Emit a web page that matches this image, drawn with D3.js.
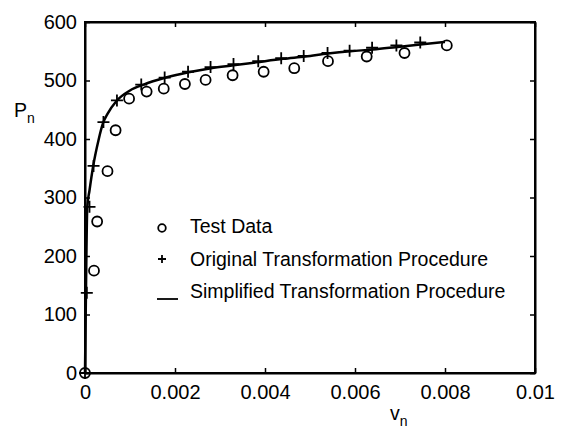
<!DOCTYPE html>
<html>
<head>
<meta charset="utf-8">
<script src="https://cdn.jsdelivr.net/npm/d3@7/dist/d3.min.js"></script>
<style>
html,body{margin:0;padding:0;background:#fff;}
svg{display:block;font-family:"Liberation Sans",Arial,Helvetica,sans-serif;}
</style>
</head>
<body>
<svg id="chart" width="566" height="430"></svg>
<script>
// Test data (circles)
const testX = [0, 0.0002, 0.00027, 0.0005, 0.00068, 0.00098, 0.00137, 0.00175, 0.00222, 0.00268, 0.00328, 0.00397, 0.00465, 0.0054, 0.00626, 0.0071, 0.00804];
const testY = [0, 175, 259, 345, 415, 469, 481, 486, 494, 501, 509, 515, 521, 533, 541, 547, 560];
// Original transformation procedure (plus markers)
const origX = [0, 0.00004, 0.0001, 0.00019, 0.00041, 0.00071, 0.00125, 0.00177, 0.00229, 0.00279, 0.0033, 0.00385, 0.00436, 0.00486, 0.00539, 0.00588, 0.00638, 0.00692, 0.00745];
const origY = [0, 137, 284, 354, 429, 466, 493, 505, 515, 523, 528, 533, 538, 542, 547, 551, 556, 560, 565];
// Simplified transformation procedure (line)
const simpX = [0, 0.00002, 0.00005, 0.0001, 0.00018, 0.0003, 0.0004, 0.0005, 0.0007, 0.001, 0.0013, 0.0018, 0.0023, 0.0028, 0.0033, 0.0038, 0.0044, 0.0049, 0.0054, 0.0059, 0.0064, 0.0069, 0.0075, 0.0080];
const simpY = [0, 130, 283, 312, 353, 398, 427, 443, 465, 483, 493, 505, 514, 521, 526, 531, 537, 541, 546, 550, 553, 557, 562, 566];

const xTicks = [0, 0.002, 0.004, 0.006, 0.008, 0.01];
const xTickLabels = ["0", "0.002", "0.004", "0.006", "0.008", "0.01"];
const yTicks = [0, 100, 200, 300, 400, 500, 600];
const yTickLabels = ["0", "100", "200", "300", "400", "500", "600"];
const legendLabels = ["Test Data", "Original Transformation Procedure", "Simplified Transformation Procedure"];

(function () {
const svg = d3.select("#chart");
const margin = {left: 85, right: 31, top: 22, bottom: 57};
const W = 566, H = 430;
const x = d3.scaleLinear().domain([0, 0.01]).range([margin.left, W - margin.right]);
const y = d3.scaleLinear().domain([0, 600]).range([H - margin.bottom, margin.top]);
const fs = 19.5, tfs = 20;

// frame
svg.append("rect")
  .attr("x", x(0)).attr("y", y(600))
  .attr("width", x(0.01) - x(0)).attr("height", y(0) - y(600))
  .attr("fill", "none").attr("stroke", "#000").attr("stroke-width", 2);

// axes with inward ticks
const gB = svg.append("g").attr("transform", `translate(0,${y(0)})`)
  .call(d3.axisBottom(x).tickValues(xTicks).tickFormat((d, i) => xTickLabels[i]).tickSizeInner(-5).tickSizeOuter(0).tickPadding(12));
const gT = svg.append("g").attr("transform", `translate(0,${y(600)})`)
  .call(d3.axisTop(x).tickValues(xTicks).tickFormat("").tickSizeInner(-5).tickSizeOuter(0));
const gL = svg.append("g").attr("transform", `translate(${x(0)},0)`)
  .call(d3.axisLeft(y).tickValues(yTicks).tickFormat((d, i) => yTickLabels[i]).tickSizeInner(-5).tickSizeOuter(0).tickPadding(8));
const gR = svg.append("g").attr("transform", `translate(${x(0.01)},0)`)
  .call(d3.axisRight(y).tickValues(yTicks).tickFormat("").tickSizeInner(-5).tickSizeOuter(0));
[gB, gT, gL, gR].forEach(g => {
  g.select(".domain").attr("stroke", "#000").attr("stroke-width", 2);
  g.selectAll(".tick line").attr("stroke", "#000").attr("stroke-width", 1.5);
  g.selectAll(".tick text").attr("fill", "#000").style("font-size", tfs + "px").style("font-family", "'Liberation Sans',Arial,sans-serif");
});

// axis titles
const pt = svg.append("text").attr("x", 14).attr("y", 117).style("font-size", fs + "px").attr("fill", "#000");
pt.append("tspan").text("P");
pt.append("tspan").attr("dy", 6).style("font-size", "14px").text("n");
const vt = svg.append("text").attr("x", 390).attr("y", 420).style("font-size", fs + "px").attr("fill", "#000");
vt.append("tspan").text("v");
vt.append("tspan").attr("dy", 6).style("font-size", "14px").text("n");

// line
const simp = simpX.map((d, i) => [d, simpY[i]]);
svg.append("path").datum(simp)
  .attr("d", d3.line().x(d => x(d[0])).y(d => y(d[1])).curve(d3.curveMonotoneX))
  .attr("fill", "none").attr("stroke", "#000").attr("stroke-width", 2.5).attr("stroke-linejoin", "round");

// plus markers
const orig = origX.map((d, i) => [d, origY[i]]);
const ps = 6;
svg.append("g").selectAll("path").data(orig).join("path")
  .attr("d", d => `M${x(d[0]) - ps},${y(d[1])}H${x(d[0]) + ps}M${x(d[0])},${y(d[1]) - ps}V${y(d[1]) + ps}`)
  .attr("stroke", "#000").attr("stroke-width", 1.8).attr("fill", "none");

// circles
const test = testX.map((d, i) => [d, testY[i]]);
svg.append("g").selectAll("circle").data(test).join("circle")
  .attr("cx", d => x(d[0])).attr("cy", d => y(d[1])).attr("r", 5)
  .attr("fill", "none").attr("stroke", "#000").attr("stroke-width", 1.8);

// legend
const lg = svg.append("g");
const rowsY = [226, 259, 291];
lg.append("circle").attr("cx", 162).attr("cy", rowsY[0] + 2).attr("r", 3.8).attr("fill", "none").attr("stroke", "#000").attr("stroke-width", 1.8);
lg.append("path").attr("d", `M158,${rowsY[1]}H166M162,${rowsY[1] - 4}V${rowsY[1] + 4}`).attr("stroke", "#000").attr("stroke-width", 1.8);
lg.append("line").attr("x1", 157).attr("x2", 178).attr("y1", rowsY[2] + 8).attr("y2", rowsY[2] + 8).attr("stroke", "#000").attr("stroke-width", 1.8);
legendLabels.forEach((t, i) => {
  lg.append("text").attr("x", 190).attr("y", rowsY[i]).attr("dy", "0.35em")
    .style("font-size", fs + "px").attr("fill", "#000").text(t);
});
})();
</script>
</body>
</html>
